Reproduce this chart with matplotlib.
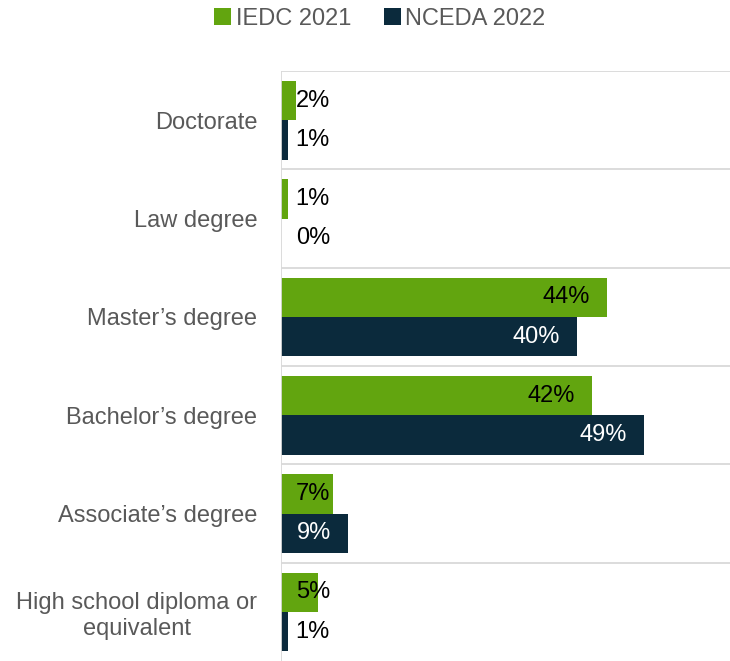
import matplotlib.pyplot as plt
import numpy as np

plt.rcParams['font.family'] = ['Liberation Sans', 'DejaVu Sans']

categories = ["Doctorate", "Law degree", "Master\u2019s degree", "Bachelor\u2019s degree",
              "Associate\u2019s degree", "High school diploma or\nequivalent"]
iedc_2021 = [2, 1, 44, 42, 7, 5]
nceda_2022 = [1, 0, 40, 49, 9, 1]
series_names = ["IEDC 2021", "NCEDA 2022"]

green = '#62A50F'
navy = '#0B2A3C'
grid = '#D9D9D9'
label_grey = '#595959'
fs = 17

fig = plt.figure(figsize=(7.30, 6.61), dpi=100)
ax = fig.add_axes([281 / 730, 0, 449 / 730, 590 / 661])

y = np.arange(len(categories))
h = 0.4
b1 = ax.barh(y - h / 2, iedc_2021, height=h, color=green, label=series_names[0])
b2 = ax.barh(y + h / 2, nceda_2022, height=h, color=navy, label=series_names[1])

ax.set_xlim(0, 60.6)
ax.set_ylim(len(categories) - 0.5, -0.5)

# value labels: right edge just inside the bar end, never left of a minimum spot
for vals, ys, inside_col in [(iedc_2021, y - h / 2, 'black'), (nceda_2022, y + h / 2, 'white')]:
    for v, yy in zip(vals, ys):
        xr = max(v - 2.3, 6.6)
        col = inside_col if v - 2.3 >= 6.6 - 0.2 else 'black'
        ax.text(xr, yy, f"{v}%", ha='right', va='center', fontsize=fs, color=col)

# category separators (the bottom one falls off the figure edge)
for b in np.arange(len(categories)) - 0.5:
    ax.axhline(b, color=grid, lw=1.3, zorder=0)
ax.axvline(0, color=grid, lw=1.3, zorder=3)

ax.set_yticks(y)
ax.set_yticklabels(categories, fontsize=fs, color=label_grey, ha='right', multialignment='center')
ax.tick_params(axis='y', length=0, pad=17)
ax.set_xticks([])
for s in ax.spines.values():
    s.set_visible(False)

fig.legend(handles=[b1, b2], labels=series_names, loc='center', bbox_to_anchor=(380 / 730, 1 - 19 / 661),
           ncol=2, frameon=False, fontsize=fs, handlelength=0.7, handleheight=0.7,
           handletextpad=0.2, columnspacing=1.4, labelcolor=label_grey)

fig.savefig('out.png', dpi=100)
